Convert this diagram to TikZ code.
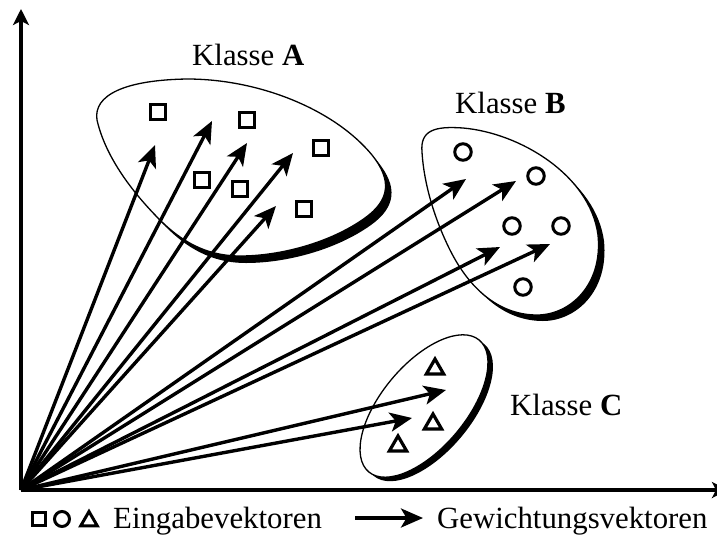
\documentclass[tikz,border=0pt]{standalone}
\usepackage{fontspec}
\setmainfont{Liberation Serif}
\usetikzlibrary{arrows.meta,shapes.geometric}

% outlines of the three class regions
\newcommand{\regionA}[1]{\path[#1] (97,120) .. controls (93,95) and (125,80) .. (187,79)
  .. controls (260,79) and (335,110) .. (372,155)
  .. controls (392,180) and (390,200) .. (365,218)
  .. controls (330,243) and (280,256) .. (240,256)
  .. controls (205,256) and (180,240) .. (160,220)
  .. controls (130,190) and (105,155) .. (97,120) -- cycle;}
\newcommand{\regionB}[1]{\path[#1] (422,152) .. controls (420,130) and (435,126) .. (463,128)
  .. controls (520,133) and (590,175) .. (598,235)
  .. controls (603,285) and (570,315) .. (537,315)
  .. controls (500,315) and (470,290) .. (450,250)
  .. controls (435,220) and (424,185) .. (422,152) -- cycle;}
\newcommand{\regionC}[1]{\path[#1,rotate around={50:(424,406)}] (424,406) ellipse [x radius=86, y radius=42];}

\begin{document}
\begin{tikzpicture}[x=1pt,y=-1pt,
  vec/.style={line width=3.4pt,-{Stealth[length=22pt,width=19pt,inset=5.5pt]}},
  axis/.style={line width=3.4pt,-{Stealth[length=16pt,width=16pt,inset=4pt]}},
  sq/.style={draw,line width=3.2pt,rectangle,minimum size=14.5pt,inner sep=0pt},
  ci/.style={draw,line width=3pt,circle,minimum size=16.5pt,inner sep=0pt},
  tri/.style={draw,line width=3.2pt,regular polygon,regular polygon sides=3,minimum size=20pt,inner sep=0pt},
  lsq/.style={draw,line width=3pt,rectangle,minimum size=13.5pt,inner sep=0pt},
  lci/.style={draw,line width=3pt,circle,minimum size=15pt,inner sep=0pt},
  ltri/.style={draw,line width=3pt,regular polygon,regular polygon sides=3,minimum size=19pt,inner sep=0pt},
  lbl/.style={font=\fontsize{30.8}{36}\selectfont,inner sep=0pt,anchor=base west},
  rim/.style={fill=white,draw,line width=1.3pt},
  drop/.style={fill=black}]
\useasboundingbox (0,0) rectangle (717,536);

% axes
\coordinate (O) at (21,490);
\coordinate (ytop) at (21,9);
\coordinate (xend) at (728,490);
\draw[axis] (O) -- (ytop);
\draw[axis] (O) -- (xend);

% class regions with drop shadow
\regionA{drop,shift={(6,7)}}
\regionA{rim}
\regionB{drop,shift={(6,6)}}
\regionB{rim}
\regionC{drop,shift={(5,4)}}
\regionC{rim}

% input vectors
\node[sq] (a1) at (158,112) {};
\node[sq] (a2) at (247,120) {};
\node[sq] (a3) at (321,148) {};
\node[sq] (a4) at (202,180) {};
\node[sq] (a5) at (240,189) {};
\node[sq] (a6) at (304,209) {};
\node[ci] (b1) at (463,152) {};
\node[ci] (b2) at (536,176) {};
\node[ci] (b3) at (512,226) {};
\node[ci] (b4) at (561,226) {};
\node[ci] (b5) at (523,287) {};
\node[tri] (c1) at (435,369) {};
\node[tri] (c2) at (433,424) {};
\node[tri] (c3) at (398,446) {};

% weight vectors
\coordinate (wa1) at (155,145);
\coordinate (wa2) at (212,121);
\coordinate (wa3) at (247,143);
\coordinate (wa4) at (293,153);
\coordinate (wa5) at (276,206);
\coordinate (wb1) at (466,179);
\coordinate (wb2) at (516,181);
\coordinate (wb3) at (500,247);
\coordinate (wb4) at (550,244);
\coordinate (wc1) at (446,390);
\coordinate (wc2) at (412,418);
\foreach \t in {wa1,wa2,wa3,wa4,wa5,wb1,wb2,wb3,wb4,wc1,wc2}
  \draw[vec] (O) -- (\t);

% class labels
\node[lbl] (la) at (192,65) {Klasse \textbf{A}};
\node[lbl] (lb) at (455,113) {Klasse \textbf{B}};
\node[lbl] (lc) at (510,415) {Klasse \textbf{C}};

% legend
\node[lsq] (ksq) at (39,519) {};
\node[lci] (kci) at (62,519) {};
\node[ltri] (ktri) at (89,521) {};
\node[lbl] (kin) at (113,528) {Eingabevektoren};
\coordinate (ks) at (355,518);
\coordinate (ke) at (423,518);
\draw[vec] (ks) -- (ke);
\node[lbl] (kw) at (437,528) {Gewichtungsvektoren};
\end{tikzpicture}
\end{document}
